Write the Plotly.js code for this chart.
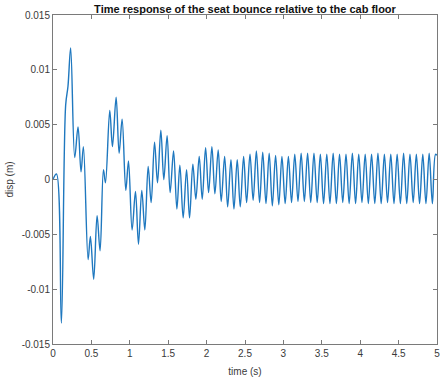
<!DOCTYPE html>
<html>
<head>
<meta charset="utf-8">
<script src="https://cdn.plot.ly/plotly-3.0.1.min.js"></script>
<style>
  html, body { margin: 0; padding: 0; background: #fff; }
  #chart { width: 441px; height: 380px; }
</style>
</head>
<body>
<div id="chart"></div>
<script>
// Seat bounce displacement relative to cab floor: turning points of the response (s, m)
const timeS = [
  0.000, 0.045, 0.109, 0.165, 0.195, 0.230, 0.283, 0.326, 0.365, 0.396,
  0.457, 0.487, 0.530, 0.574, 0.613, 0.657, 0.683, 0.739, 0.774, 0.822,
  0.861, 0.900, 0.948, 0.983, 1.030, 1.074, 1.113, 1.156, 1.196, 1.239,
  1.278, 1.322, 1.361, 1.404, 1.443, 1.486, 1.525, 1.570, 1.613, 1.652,
  1.695, 1.739, 1.778, 1.821, 1.860, 1.904, 1.943, 1.987, 2.026, 2.069,
  2.108, 2.151, 2.190, 2.235, 2.274, 2.317, 2.356, 2.399, 2.438, 2.482,
  2.521, 2.565, 2.606, 2.648, 2.690, 2.731, 2.773, 2.815, 2.856, 2.898,
  2.940, 2.981, 3.023, 3.065, 3.106, 3.148, 3.190, 3.231, 3.273, 3.315,
  3.356, 3.398, 3.440, 3.481, 3.523, 3.565, 3.606, 3.648, 3.690, 3.731,
  3.773, 3.815, 3.856, 3.898, 3.940, 3.981, 4.023, 4.065, 4.106, 4.148,
  4.190, 4.231, 4.273, 4.315, 4.356, 4.398, 4.440, 4.481, 4.523, 4.565,
  4.606, 4.648, 4.690, 4.731, 4.773, 4.815, 4.856, 4.898, 4.940, 4.981,
  5.000
];
const dispM = [
  0.0000, 0.0005, -0.0131, 0.0068, 0.0085, 0.0120, 0.0020, 0.0048, 0.0007, 0.0030,
  -0.0073, -0.0052, -0.0091, -0.0033, -0.0065, 0.0009, -0.0003, 0.0063, 0.0030, 0.0075,
  0.0024, 0.0055, -0.0010, 0.0017, -0.0046, -0.0011, -0.0059, -0.0010, -0.0046, 0.0012,
  -0.0021, 0.0034, -0.0003, 0.0045, 0.0000, 0.0040, -0.0012, 0.0026, -0.0027, 0.0013,
  -0.0035, 0.0009, -0.0035, 0.0014, -0.0018, 0.0021, -0.0018, 0.0029, -0.0012, 0.0030,
  -0.0013, 0.0027, -0.0020, 0.0021, -0.0025, 0.0018, -0.0027, 0.0018, -0.0025, 0.0021,
  -0.0021, 0.0023, -0.0019, 0.0026, -0.0021, 0.0025, -0.0022, 0.0024, -0.0024, 0.0022,
  -0.0023, 0.0021, -0.0022, 0.0021, -0.0021, 0.0023, -0.0020, 0.0024, -0.0020, 0.0024,
  -0.0021, 0.0024, -0.0021, 0.0023, -0.0022, 0.0023, -0.0022, 0.0024, -0.0022, 0.0023,
  -0.0021, 0.0023, -0.0022, 0.0024, -0.0022, 0.0023, -0.0021, 0.0023, -0.0022, 0.0023,
  -0.0022, 0.0024, -0.0022, 0.0023, -0.0021, 0.0023, -0.0022, 0.0023, -0.0022, 0.0024,
  -0.0022, 0.0023, -0.0021, 0.0023, -0.0022, 0.0023, -0.0022, 0.0024, -0.0022, 0.0023,
  0.0022
];

const xTickVals = [0, 0.5, 1, 1.5, 2, 2.5, 3, 3.5, 4, 4.5, 5];
const xTickText = ['0', '0.5', '1', '1.5', '2', '2.5', '3', '3.5', '4', '4.5', '5'];
const yTickVals = [-0.015, -0.01, -0.005, 0, 0.005, 0.01, 0.015];
const yTickText = ['-0.015', '-0.01', '-0.005', '0', '0.005', '0.01', '0.015'];

const axisColor = '#7a7a7a';
const labelColor = '#3a3a3a';
const baseFont = { family: 'Liberation Sans, Arial, sans-serif', size: 10, color: labelColor };

const trace = {
  x: timeS,
  y: dispM,
  type: 'scatter',
  mode: 'lines',
  line: { color: '#1f78bf', width: 1.4, shape: 'spline', smoothing: 1 },
  hoverinfo: 'skip'
};

const layout = {
  width: 441,
  height: 380,
  paper_bgcolor: '#ffffff',
  plot_bgcolor: '#ffffff',
  margin: { l: 53, r: 4, t: 15, b: 36 },
  showlegend: false,
  font: baseFont,
  title: {
    text: '<b>Time response of the seat bounce relative to the cab floor</b>',
    font: { family: 'Liberation Sans, Arial, sans-serif', size: 11, color: '#111' },
    x: 0.5, xanchor: 'center', xref: 'paper',
    y: 1, yref: 'paper', yanchor: 'bottom', pad: { b: 2 }
  },
  xaxis: {
    range: [0, 5],
    tickmode: 'array', tickvals: xTickVals, ticktext: xTickText,
    ticks: 'inside', ticklen: 4, tickcolor: axisColor, tickwidth: 1,
    showline: true, linecolor: axisColor, linewidth: 1, mirror: 'ticks',
    showgrid: false, zeroline: false,
    tickfont: baseFont,
    title: { text: 'time (s)', font: baseFont, standoff: 9 }
  },
  yaxis: {
    range: [-0.015, 0.015],
    tickmode: 'array', tickvals: yTickVals, ticktext: yTickText,
    ticks: 'inside', ticklen: 4, tickcolor: axisColor, tickwidth: 1,
    showline: true, linecolor: axisColor, linewidth: 1, mirror: 'ticks',
    showgrid: false, zeroline: false,
    tickfont: baseFont,
    title: { text: 'disp (m)', font: baseFont, standoff: 6 }
  }
};

Plotly.newPlot('chart', [trace], layout, { staticPlot: true, displayModeBar: false });
</script>
</body>
</html>
